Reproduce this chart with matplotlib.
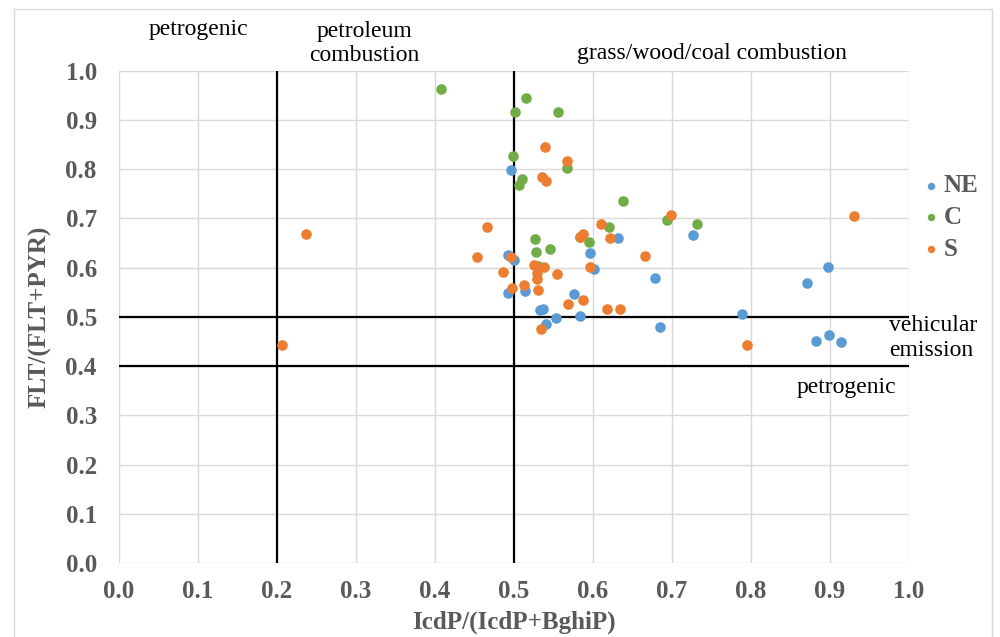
import matplotlib.pyplot as plt
from matplotlib.patches import Rectangle

# Excel-like look with Times-style fonts
plt.rcParams['font.family'] = ['Liberation Serif', 'DejaVu Serif']

# data
ne_x = [0.496, 0.492, 0.500, 0.492, 0.514, 0.533, 0.537, 0.541, 0.553, 0.576, 0.584, 0.596,
        0.601, 0.632, 0.678, 0.685, 0.727, 0.789, 0.871, 0.897, 0.882, 0.899, 0.914]
ne_y = [0.799, 0.626, 0.616, 0.549, 0.553, 0.514, 0.516, 0.486, 0.498, 0.547, 0.502, 0.630,
        0.598, 0.661, 0.579, 0.480, 0.667, 0.506, 0.569, 0.602, 0.451, 0.463, 0.449]

c_x = [0.408, 0.515, 0.501, 0.556, 0.499, 0.567, 0.510, 0.506, 0.638, 0.620, 0.527, 0.528,
       0.546, 0.595, 0.584, 0.694, 0.732, 0.530]
c_y = [0.963, 0.945, 0.917, 0.917, 0.827, 0.803, 0.780, 0.768, 0.736, 0.683, 0.659, 0.632,
       0.638, 0.652, 0.663, 0.697, 0.689, 0.604]

s_x = [0.539, 0.567, 0.535, 0.540, 0.466, 0.453, 0.496, 0.486, 0.497, 0.513, 0.525, 0.529,
       0.529, 0.530, 0.538, 0.554, 0.534, 0.568, 0.587, 0.584, 0.587, 0.596, 0.610, 0.622,
       0.618, 0.634, 0.666, 0.699, 0.237, 0.206, 0.795, 0.930]
s_y = [0.846, 0.817, 0.785, 0.776, 0.683, 0.622, 0.622, 0.591, 0.559, 0.565, 0.606, 0.589,
       0.577, 0.555, 0.602, 0.587, 0.476, 0.526, 0.535, 0.663, 0.669, 0.602, 0.689, 0.661,
       0.516, 0.516, 0.624, 0.707, 0.669, 0.443, 0.443, 0.705]

ticks = [0.0, 0.1, 0.2, 0.3, 0.4, 0.5, 0.6, 0.7, 0.8, 0.9, 1.0]
tick_labels = ['%.1f' % t for t in ticks]

gray = '#595959'

fig = plt.figure(figsize=(10, 6.37), dpi=100)
ax = fig.add_axes([0.119, 0.116, 0.790, 0.773])

ax.scatter(ne_x, ne_y, s=58, color='#5B9BD5', label='NE', zorder=3, linewidths=0)
ax.scatter(c_x, c_y, s=58, color='#70AD47', label='C', zorder=3, linewidths=0)
ax.scatter(s_x, s_y, s=58, color='#ED7D31', label='S', zorder=3, linewidths=0)

# source boundary lines
ax.plot([0.2, 0.2], [0, 1], color='black', lw=1.6, zorder=2)
ax.plot([0.5, 0.5], [0, 1], color='black', lw=1.6, zorder=2)
ax.plot([0, 1], [0.5, 0.5], color='black', lw=1.6, zorder=2)
ax.plot([0, 1], [0.4, 0.4], color='black', lw=1.6, zorder=2)

ax.set_xlim(0, 1)
ax.set_ylim(0, 1)
ax.set_xticks(ticks)
ax.set_yticks(ticks)
ax.set_xticklabels(tick_labels)
ax.set_yticklabels(tick_labels)
ax.tick_params(length=0, labelsize=18, labelcolor=gray)
ax.tick_params(axis='y', pad=16)
ax.tick_params(axis='x', pad=12)
for lab in ax.get_xticklabels() + ax.get_yticklabels():
    lab.set_fontweight('bold')
ax.grid(True, color='#d9d9d9', lw=1)
ax.set_axisbelow(True)
for sp in ax.spines.values():
    sp.set_visible(False)

ax.set_xlabel('IcdP/(IcdP+BghiP)', fontsize=18, fontweight='bold', color=gray)
ax.set_ylabel('FLT/(FLT+PYR)', fontsize=18, fontweight='bold', color=gray)
ax.xaxis.set_label_coords(0.5, -0.096)
ax.yaxis.set_label_coords(-0.086, 0.5)

# region annotations
ax.text(0.1, 1.083, 'petrogenic', fontsize=17, ha='center', va='center', clip_on=False)
ax.text(0.311, 1.055, 'petroleum\ncombustion', fontsize=17, ha='center', va='center',
        linespacing=1.2, clip_on=False)
ax.text(0.751, 1.035, 'grass/wood/coal combustion', fontsize=17, ha='center', va='center',
        clip_on=False)
ax.text(0.975, 0.457, 'vehicular\nemission', fontsize=17, ha='left', va='center',
        linespacing=1.2, clip_on=False)
ax.text(0.921, 0.356, 'petrogenic', fontsize=17, ha='center', va='center')

leg = ax.legend(loc='upper left', bbox_to_anchor=(1.003, 0.815), frameon=False,
                handlelength=0.6, handletextpad=0.2, labelspacing=0.35, borderpad=0,
                markerscale=0.7, prop={'size': 18, 'weight': 'bold'})
for t in leg.get_texts():
    t.set_color(gray)

# chart area border
fig.patches.append(Rectangle((0.014, -0.01), 0.978, 0.996, transform=fig.transFigure,
                             fill=False, edgecolor='#d9d9d9', lw=1))

fig.savefig('out.png', dpi=100)
